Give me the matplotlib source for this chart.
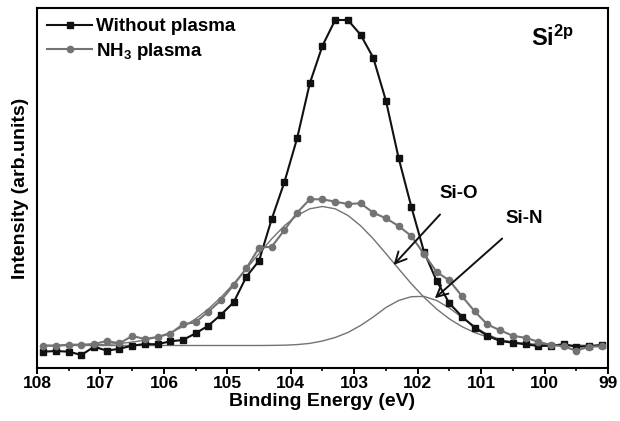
import numpy as np
import matplotlib
matplotlib.use("Agg")
import matplotlib.pyplot as plt

plt.rcParams["font.family"] = ["Liberation Sans", "DejaVu Sans"]
plt.rcParams["font.weight"] = "bold"
plt.rcParams["mathtext.fontset"] = "custom"
plt.rcParams["mathtext.rm"] = "Liberation Sans:bold"
plt.rcParams["mathtext.bf"] = "Liberation Sans:bold"
plt.rcParams["mathtext.it"] = "Liberation Sans:bold"

# Energias de enlace (eV), paso de 0.2 eV
energia = [107.9, 107.7, 107.5, 107.3, 107.1, 106.9, 106.7, 106.5, 106.3, 106.1,
           105.9, 105.7, 105.5, 105.3, 105.1, 104.9, 104.7, 104.5, 104.3, 104.1,
           103.9, 103.7, 103.5, 103.3, 103.1, 102.9, 102.7, 102.5, 102.3, 102.1,
           101.9, 101.7, 101.5, 101.3, 101.1, 100.9, 100.7, 100.5, 100.3, 100.1,
           99.9, 99.7, 99.5, 99.3, 99.1]

# Sin plasma (cuadrados negros)
sinPlasma = [16.3, 17.0, 16.3, 13.0, 21.3, 17.3, 19.3, 22.3, 24.0, 23.7,
             26.7, 28.0, 34.7, 42.3, 53.3, 65.7, 91.3, 107.3, 149.0, 186.0,
             229.7, 284.7, 322.3, 348.0, 348.0, 333.3, 310.3, 267.3, 210.0, 161.3,
             116.3, 87.0, 64.7, 51.3, 40.3, 32.3, 27.0, 25.3, 23.7, 22.0,
             22.3, 23.7, 21.3, 21.7, 23.0]

# Plasma NH3 (circulos grises)
plasmaNH3 = [22.3, 22.3, 23.3, 23.3, 24.0, 27.0, 24.7, 32.0, 29.0, 31.0,
             34.3, 43.7, 45.7, 56.3, 67.7, 83.0, 99.7, 120.3, 121.3, 138.0,
             155.3, 168.7, 168.7, 166.3, 164.0, 164.7, 155.3, 149.7, 142.0, 132.0,
             114.0, 96.0, 87.5, 71.7, 56.5, 43.5, 37.7, 32.2, 30.2, 26.3,
             23.0, 21.7, 17.3, 21.3, 21.7]

# Ajustes (curvas finas)
ajusteSiO = [22.5, 22.5, 22.6, 22.8, 23.1, 23.6, 24.5, 25.9, 27.9, 31.0,
             35.4, 41.3, 49.1, 58.9, 70.7, 84.3, 99.2, 114.4, 129.2, 142.3,
             152.6, 159.2, 161.5, 159.2, 152.6, 142.3, 129.2, 114.4, 99.2, 84.3,
             70.7, 58.9, 49.1, 41.3, 35.4, 31.0, 27.9, 25.9, 24.6, 23.6,
             23.0, 22.7, 22.6, 22.5, 22.5]

ajusteSiN = [22.5, 22.5, 22.5, 22.5, 22.5, 22.5, 22.5, 22.5, 22.5, 22.5,
             22.5, 22.5, 22.5, 22.5, 22.5, 22.5, 22.5, 22.5, 22.6, 22.8,
             23.4, 24.6, 27.0, 30.5, 35.5, 42.5, 51.0, 60.5, 67.5, 71.3,
             71.6, 67.5, 60.0, 50.5, 41.5, 33.5, 28.5, 25.8, 24.0, 23.2,
             22.8, 22.6, 22.5, 22.5, 22.5]

negro = "#111111"
gris = "#737373"

fig = plt.figure(figsize=(6.2, 4.21), dpi=100)
ax = fig.add_axes([0.0597, 0.1259, 0.9209, 0.8551])

ax.plot(energia, ajusteSiO, color=gris, lw=1.0)
ax.plot(energia, ajusteSiN, color=gris, lw=1.0)
ax.plot(energia, sinPlasma, "-s", color=negro, lw=1.5, ms=4.0, label="Without plasma")
ax.plot(energia, plasmaNH3, "-o", color=gris, lw=1.5, ms=4.5, label="NH$_3$ plasma")

ax.set_xlim(108, 99)
ax.set_ylim(0, 360)
ax.set_xticks([108, 107, 106, 105, 104, 103, 102, 101, 100, 99])
ax.set_xticks(np.arange(99.5, 108, 1.0), minor=True)
ax.set_yticks([])
ax.tick_params(axis="x", which="major", direction="out", length=4, width=1.4,
               labelsize=12.5, pad=2)
ax.tick_params(axis="x", which="minor", direction="out", length=2.5, width=1.2)
for s in ax.spines.values():
    s.set_linewidth(1.5)

ax.set_xlabel("Binding Energy (eV)", fontsize=14, fontweight="bold", labelpad=1)
ax.set_ylabel("Intensity (arb.units)", fontsize=14, fontweight="bold", labelpad=6)

ax.legend(loc="upper left", frameon=False, fontsize=13.5, handlelength=2.4,
          handletextpad=0.2, labelspacing=0.3, borderaxespad=0.45, borderpad=0.1,
          numpoints=1)

ax.text(100.22, 330, r"Si$^{\mathrm{2p}}$", fontsize=17, fontweight="bold",
        ha="left", va="center")

ax.annotate("Si-O", xy=(102.38, 103), xytext=(101.35, 174), fontsize=13.5,
            fontweight="bold", ha="center", va="center",
            arrowprops=dict(arrowstyle="->", lw=1.4, color=negro, mutation_scale=20,
                            shrinkA=9, shrinkB=0))
ax.annotate("Si-N", xy=(101.73, 69.7), xytext=(100.32, 149), fontsize=13.5,
            fontweight="bold", ha="center", va="center",
            arrowprops=dict(arrowstyle="->", lw=1.4, color=negro, mutation_scale=20,
                            shrinkA=9, shrinkB=0))

fig.savefig("out.png", dpi=100)
